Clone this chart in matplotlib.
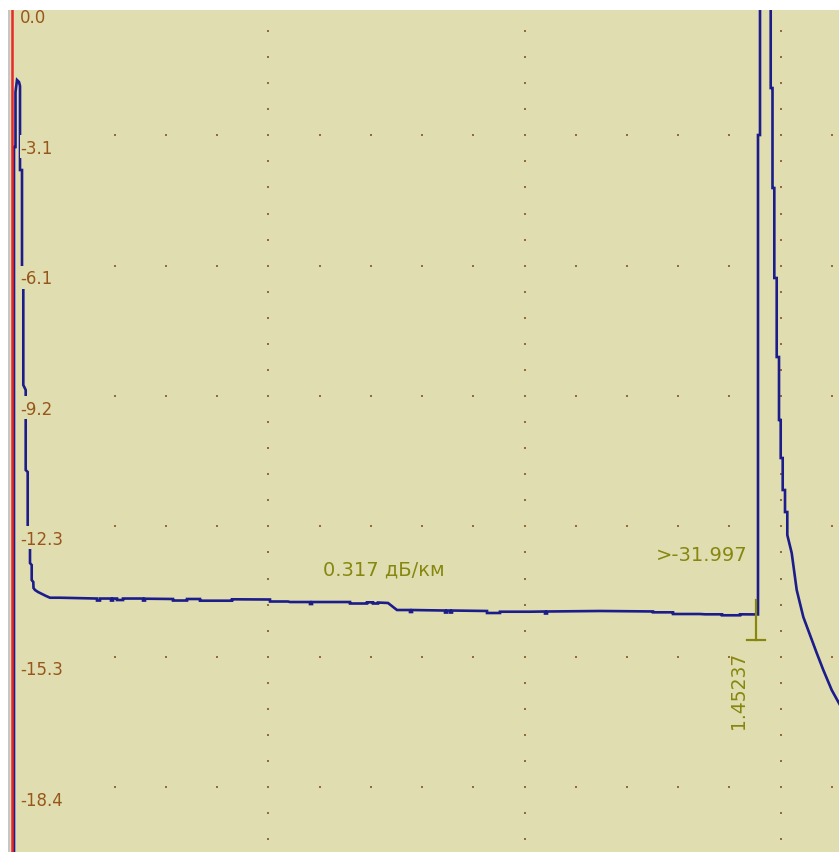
import matplotlib
matplotlib.use("Agg")
import matplotlib.pyplot as plt
from matplotlib.patches import Rectangle

# ---------------- data ----------------
trace_km = [
    0.00371, 0.00371, 0.00664, 0.00664, 0.00956, 0.01347, 0.01542, 0.01542, 0.01932, 0.01932,
    0.02186, 0.02186, 0.02654, 0.02654, 0.03045, 0.03045, 0.03493, 0.03493, 0.03825, 0.03825,
    0.04137, 0.04176, 0.04469, 0.05055, 0.05836, 0.06616, 0.07397, 0.09348,
    0.16569, 0.16569, 0.17155, 0.17155,
    0.19301, 0.19301, 0.19692, 0.19692,
    0.20472, 0.20472, 0.21643, 0.21643,
    0.25546, 0.25546, 0.25937, 0.25937,
    0.31401, 0.31401, 0.34133, 0.34133,
    0.36671, 0.36671, 0.42916, 0.42916,
    0.50332, 0.50332, 0.53845, 0.54235,
    0.58138, 0.58138, 0.58529, 0.58529,
    0.65945, 0.65945, 0.69262, 0.69262,
    0.70433, 0.70433, 0.71409, 0.71409,
    0.73361, 0.75117,
    0.77654, 0.77654, 0.78045, 0.78045,
    0.84485, 0.84485, 0.84875, 0.84875,
    0.85461, 0.85461, 0.85851, 0.85851,
    0.92682, 0.92682, 0.95218, 0.95218,
    1.01073,
    1.04001, 1.04001, 1.04391, 1.04391,
    1.14734, 1.25078, 1.25078,
    1.28981, 1.28981, 1.34251, 1.35226,
    1.38544, 1.38544, 1.42057, 1.42057,
    1.45240, 1.45570, 1.45570, 1.45960, 1.45960,
    1.48049, 1.48049, 1.48400, 1.48400, 1.48752, 1.48752, 1.49220, 1.49220,
    1.49669, 1.49669, 1.50001, 1.50001, 1.50391, 1.50391, 1.50840, 1.50840,
    1.51289, 1.51289, 1.52148, 1.53124, 1.54412, 1.55719, 1.57027, 1.58315,
    1.59954, 1.61379, 1.62550,
]
trace_db = [
    -21.04, -3.339, -3.339, -2.046, -1.764, -1.811, -1.905, -3.880, -3.880, -6.349,
    -6.466, -8.935, -9.053, -10.934, -10.981, -12.698, -12.768, -13.121, -13.168, -13.521,
    -13.568, -13.708, -13.755, -13.802, -13.849, -13.896, -13.937, -13.937,
    -13.956, -14.003, -14.003, -13.956,
    -13.956, -14.003, -14.003, -13.956,
    -13.956, -13.991, -13.991, -13.956,
    -13.956, -14.003, -14.003, -13.960,
    -13.967, -14.003, -14.003, -13.967,
    -13.967, -14.007, -14.007, -13.974,
    -13.979, -14.026, -14.026, -14.038,
    -14.038, -14.085, -14.085, -14.038,
    -14.038, -14.073, -14.073, -14.045,
    -14.045, -14.073, -14.073, -14.050,
    -14.061, -14.226,
    -14.226, -14.273, -14.273, -14.226,
    -14.238, -14.285, -14.285, -14.238,
    -14.238, -14.285, -14.285, -14.238,
    -14.249, -14.296, -14.296, -14.266,
    -14.266,
    -14.261, -14.308, -14.308, -14.261,
    -14.249, -14.260, -14.280,
    -14.280, -14.320, -14.320, -14.327,
    -14.327, -14.350, -14.350, -14.327,
    -14.330, -14.330, -3.057, -3.057, 1.5,
    1.5, -1.952, -1.952, -4.303, -4.303, -6.419, -6.419, -8.277,
    -8.277, -9.758, -9.758, -10.652, -10.652, -11.404, -11.404, -11.922,
    -11.922, -12.462, -12.886, -13.755, -14.390, -14.814, -15.237, -15.637,
    -16.107, -16.413, -16.695,
]
y_tick_labels = ["0.0", "-3.1", "-6.1", "-9.2", "-12.3", "-15.3", "-18.4"]
db_per_div = 3.065
km_per_div = 0.5
marker_km = 1.45237
marker_top_db = -13.99
marker_bottom_db = -14.93
marker_label = "1.45237"
loss_label = ">-31.997"
atten_label = "0.317 дБ/км"

# ---------------- style ----------------
BG = "#e0deb1"
TRACE = "#1c1c8a"
BROWN = "#98561a"
OLIVE = "#87870f"
DOT = "#9a683a"
RED = "#e8282c"

W, H = 839, 852
fig = plt.figure(figsize=(W / 100, H / 100), dpi=100, facecolor="white")
ax = fig.add_axes([10 / W, 0, (W - 10) / W, (H - 10) / H])
ax.set_facecolor(BG)
for s in ax.spines.values():
    s.set_visible(False)
ax.set_xticks([])
ax.set_yticks([])

px_km = km_per_div / 256.2
px_db = db_per_div / 130.35
ax.set_xlim(-2.1 * px_km, 826.9 * px_km)
ax.set_ylim(-847 * px_db, -5 * px_db)

# grey strip left of plot
fig.patches.append(Rectangle((7.5 / W, 0), 2.5 / W, (H - 10) / H, transform=fig.transFigure,
                             facecolor="#c6c6c6", edgecolor="none"))

# dotted grid
row_x = [0.1 * j for j in range(2, 17)]
for k in range(0, 7):
    ax.scatter(row_x, [-k * db_per_div] * len(row_x), s=4, marker="s", color=DOT,
               linewidths=0, zorder=1)
col_y = [-i * db_per_div / 5 for i in range(1, 33)]
for c in range(1, 4):
    ax.scatter([c * km_per_div] * len(col_y), col_y, s=4, marker="s", color=DOT,
               linewidths=0, zorder=1)

# red zero line
ax.axvline(0, color=RED, lw=1.8, zorder=3)

# trace
ax.plot(trace_km, trace_db, color=TRACE, lw=1.9, zorder=2, solid_joinstyle="miter")

# y labels with background boxes
for k, lab in enumerate(y_tick_labels):
    row = -k * db_per_div
    ax.add_patch(Rectangle((8.0 * px_km, row - 23 * px_db), 46 * px_km, 23 * px_db,
                           facecolor=BG, edgecolor="none", antialiased=False, zorder=4))
    ax.text(8.2 * px_km, row - 13.5 * px_db, lab, color=BROWN, fontsize=12,
            ha="left", va="center", zorder=5)

# marker
ax.plot([marker_km, marker_km], [marker_top_db, marker_bottom_db], color=OLIVE, lw=1.6, zorder=4)
ax.plot([marker_km - 9 * px_km, marker_km + 9 * px_km], [marker_bottom_db, marker_bottom_db],
        color=OLIVE, lw=1.6, zorder=4)
ax.text(marker_km - 18 * px_km, -16.107, marker_label, color=OLIVE, fontsize=13.5,
        rotation=90, ha="center", va="center", zorder=5)
ax.text(marker_km - 8.5 * px_km, -12.933, loss_label, color=OLIVE, fontsize=14,
        ha="right", va="center", zorder=5)
ax.text(0.6068, -13.285, atten_label, color=OLIVE, fontsize=14,
        ha="left", va="center", zorder=5)

fig.savefig("out.png", dpi=100, facecolor="white")
